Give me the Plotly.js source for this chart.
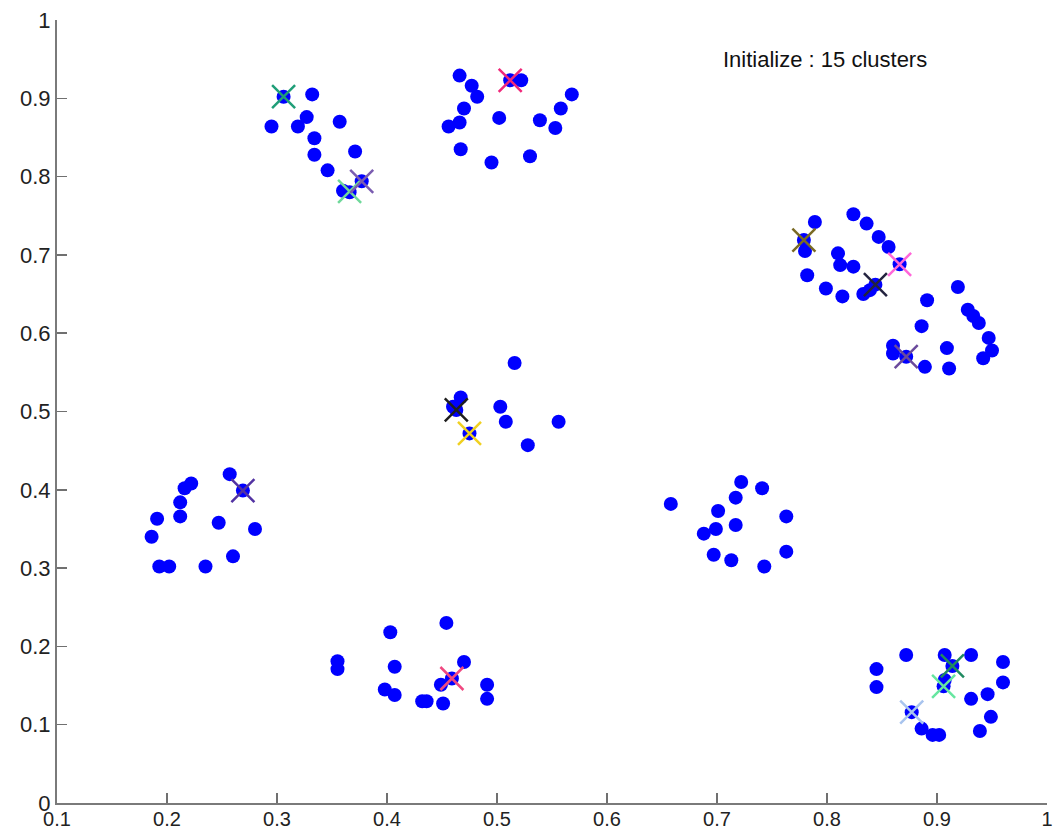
<!DOCTYPE html>
<html>
<head>
<meta charset="utf-8">
<script src="https://cdn.plot.ly/plotly-3.0.1.min.js"></script>
<style>html,body{margin:0;padding:0;background:#fff;}#chart{width:1056px;height:834px;}</style>
</head>
<body>
<div id="chart"></div>
<script>
// Data points (x, y)
const pointsX = [
  0.306, 0.332, 0.327, 0.319, 0.295, 0.357, 0.334, 0.334, 0.371, 0.346, 0.377, 0.360, 0.366,
  0.466, 0.477, 0.482, 0.470, 0.456, 0.466, 0.502, 0.467, 0.495, 0.530, 0.539, 0.553, 0.558, 0.568, 0.512, 0.522,
  0.789, 0.779, 0.780, 0.824, 0.836, 0.847, 0.856, 0.866, 0.810, 0.812, 0.824, 0.782, 0.799, 0.814, 0.833, 0.844, 0.839,
  0.919, 0.891, 0.928, 0.933, 0.938, 0.886, 0.947, 0.950, 0.942, 0.909, 0.911, 0.860, 0.860, 0.872, 0.889,
  0.516, 0.467, 0.460, 0.463, 0.503, 0.508, 0.556, 0.528, 0.475,
  0.257, 0.269, 0.222, 0.216, 0.212, 0.212, 0.191, 0.186, 0.247, 0.280, 0.193, 0.202, 0.235, 0.260,
  0.658, 0.722, 0.741, 0.717, 0.701, 0.717, 0.699, 0.688, 0.697, 0.713, 0.743, 0.763, 0.763,
  0.355, 0.355, 0.403, 0.454, 0.407, 0.470, 0.398, 0.407, 0.432, 0.436, 0.451, 0.449, 0.459, 0.491, 0.491,
  0.845, 0.845, 0.872, 0.907, 0.931, 0.914, 0.906, 0.907, 0.960, 0.960, 0.946, 0.931, 0.949, 0.939, 0.877, 0.886, 0.896, 0.902
];
const pointsY = [
  0.902, 0.905, 0.876, 0.864, 0.864, 0.870, 0.849, 0.828, 0.832, 0.808, 0.794, 0.782, 0.780,
  0.929, 0.916, 0.902, 0.887, 0.864, 0.869, 0.875, 0.835, 0.818, 0.826, 0.872, 0.862, 0.887, 0.905, 0.923, 0.923,
  0.742, 0.719, 0.705, 0.752, 0.740, 0.723, 0.710, 0.688, 0.702, 0.687, 0.685, 0.674, 0.657, 0.647, 0.650, 0.662, 0.655,
  0.659, 0.642, 0.630, 0.622, 0.613, 0.609, 0.594, 0.578, 0.568, 0.581, 0.555, 0.584, 0.574, 0.570, 0.557,
  0.562, 0.518, 0.506, 0.502, 0.506, 0.487, 0.487, 0.457, 0.472,
  0.420, 0.399, 0.408, 0.402, 0.384, 0.366, 0.363, 0.340, 0.358, 0.350, 0.302, 0.302, 0.302, 0.315,
  0.382, 0.410, 0.402, 0.390, 0.373, 0.355, 0.350, 0.344, 0.317, 0.310, 0.302, 0.366, 0.321,
  0.181, 0.171, 0.218, 0.230, 0.174, 0.180, 0.145, 0.138, 0.130, 0.130, 0.127, 0.151, 0.159, 0.151, 0.133,
  0.171, 0.148, 0.189, 0.189, 0.189, 0.175, 0.149, 0.157, 0.180, 0.154, 0.139, 0.133, 0.110, 0.092, 0.116, 0.095, 0.087, 0.087
];

// Cluster initial centroids
const centroidX = [0.306, 0.366, 0.377, 0.512, 0.779, 0.866, 0.844, 0.872, 0.463, 0.475, 0.269, 0.459, 0.914, 0.906, 0.877];
const centroidY = [0.902, 0.781, 0.794, 0.923, 0.719, 0.688, 0.662, 0.570, 0.502, 0.472, 0.399, 0.159, 0.175, 0.149, 0.116];
const centroidColors = ['#1f9e78', '#6fd89a', '#7a5cb0', '#f0287a', '#7a6a24', '#ff66d8', '#23233f', '#6a4a9c',
  '#1e1e1e', '#f0d020', '#5232a2', '#f04880', '#1f8a60', '#66e6a0', '#a8c4ee'];

const xTickVals = [0.1, 0.2, 0.3, 0.4, 0.5, 0.6, 0.7, 0.8, 0.9, 1];
const xTickText = ['0.1', '0.2', '0.3', '0.4', '0.5', '0.6', '0.7', '0.8', '0.9', '1'];
const yTickVals = [0, 0.1, 0.2, 0.3, 0.4, 0.5, 0.6, 0.7, 0.8, 0.9, 1];
const yTickText = ['0', '0.1', '0.2', '0.3', '0.4', '0.5', '0.6', '0.7', '0.8', '0.9', '1'];

const annotationText = 'Initialize : 15 clusters';

const traces = [
  {
    x: pointsX, y: pointsY, type: 'scatter', mode: 'markers',
    marker: {color: '#0000ff', size: 14}, hoverinfo: 'x+y', showlegend: false
  },
  {
    x: centroidX, y: centroidY, type: 'scatter', mode: 'markers',
    marker: {symbol: 'x-thin', size: 23, color: centroidColors,
      line: {color: centroidColors, width: 2.5}},
    showlegend: false
  }
];

const axisCommon = {
  showgrid: false, zeroline: false, showline: true, linecolor: '#7a7a7a', linewidth: 2,
  ticks: 'inside', ticklen: 10, tickcolor: '#707070', tickwidth: 1.5,
  tickfont: {family: 'Liberation Sans, Arial, sans-serif', size: 22, color: '#222'},
  mirror: false, fixedrange: true
};

const layout = {
  width: 1056, height: 834,
  margin: {l: 57, r: 9, t: 20, b: 31},
  paper_bgcolor: '#ffffff', plot_bgcolor: '#ffffff',
  xaxis: Object.assign({}, axisCommon, {range: [0.1, 1], tickmode: 'array', tickvals: xTickVals, ticktext: xTickText,
    tickfont: {family: 'Liberation Sans, Arial, sans-serif', size: 20, color: '#222'}, ticklabelstandoff: -3}),
  yaxis: Object.assign({}, axisCommon, {range: [0, 1], tickmode: 'array', tickvals: yTickVals, ticktext: yTickText}),
  annotations: [{
    x: 0.798, y: 0.949, xref: 'x', yref: 'y', text: annotationText, showarrow: false,
    font: {family: 'Liberation Sans, Arial, sans-serif', size: 22, color: '#111'}
  }],
  showlegend: false
};

Plotly.newPlot('chart', traces, layout, {displayModeBar: false, staticPlot: true});
</script>
</body>
</html>
